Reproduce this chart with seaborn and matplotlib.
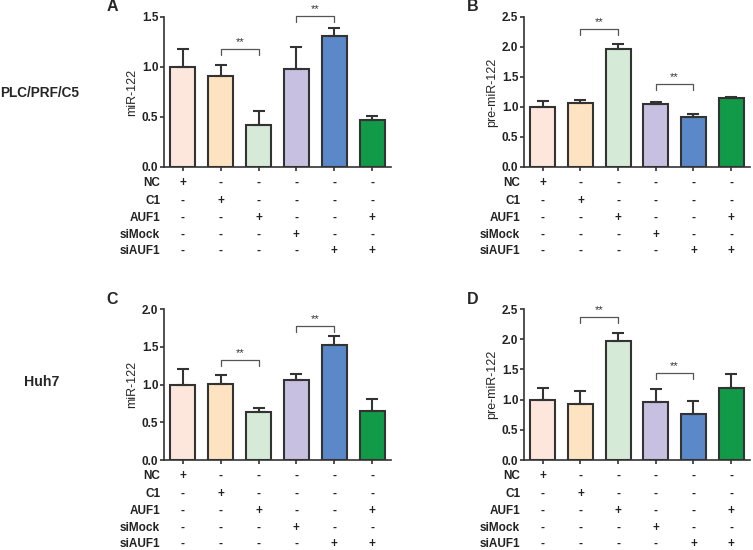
import matplotlib.pyplot as plt
import matplotlib.transforms as mtransforms
import pandas as pd
import seaborn as sns

# %% Data

GROUPS = ["NC", "C1", "AUF1", "siMock", "siAUF1", "AUF1+siAUF1"]
COLORS = ["#fde6dc", "#fde3c1", "#d5ebd7", "#c8c0e0", "#5a88c8", "#119a48"]

ROW_LABELS = ["NC", "C1", "AUF1", "siMock", "siAUF1"]
SIGNS = [
    ["+", "-", "-", "-", "-", "-"],
    ["-", "+", "-", "-", "-", "-"],
    ["-", "-", "+", "-", "-", "+"],
    ["-", "-", "-", "+", "-", "-"],
    ["-", "-", "-", "-", "+", "+"],
]

a_mean = [1.00, 0.91, 0.42, 0.98, 1.31, 0.47]
a_sd = [0.18, 0.11, 0.14, 0.22, 0.08, 0.04]
b_mean = [1.00, 1.07, 1.96, 1.05, 0.84, 1.15]
b_sd = [0.10, 0.05, 0.09, 0.04, 0.04, 0.01]
c_mean = [1.00, 1.01, 0.64, 1.06, 1.53, 0.65]
c_sd = [0.20, 0.11, 0.05, 0.08, 0.11, 0.16]
d_mean = [1.00, 0.92, 1.97, 0.96, 0.77, 1.19]
d_sd = [0.19, 0.23, 0.14, 0.22, 0.20, 0.23]

# brackets: (left bar, right bar, height)
a_sig = [(1, 2, 1.18), (3, 4, 1.51)]
b_sig = [(1, 2, 2.30), (3, 4, 1.38)]
c_sig = [(1, 2, 1.32), (3, 4, 1.77)]
d_sig = [(1, 2, 2.37), (3, 4, 1.44)]

PANELS = [
    ("A", "miR-122", a_mean, a_sd, a_sig, 1.5, 0.5, [0.2178, 0.6964, 0.3015, 0.2727], 1.073),
    ("B", "pre-miR-122", b_mean, b_sd, b_sig, 2.5, 0.5, [0.6959, 0.6964, 0.3000, 0.2727], 1.073),
    ("C", "miR-122", c_mean, c_sd, c_sig, 2.0, 0.5, [0.2178, 0.1636, 0.3015, 0.2745], 1.06),
    ("D", "pre-miR-122", d_mean, d_sd, d_sig, 2.5, 0.5, [0.6959, 0.1636, 0.3000, 0.2745], 1.066),
]

# %% Plot

sns.set_style("ticks")
plt.rcParams["font.family"] = ["Liberation Sans", "DejaVu Sans"]
plt.rcParams["axes.linewidth"] = 1.2

fig = plt.figure(figsize=(7.53, 5.5), dpi=100)
edge = "#333333"

for letter, ylabel, mean, sd, sig, ymax, step, rect, ly in PANELS:
    ax = fig.add_axes(rect)
    df = pd.DataFrame({"group": GROUPS, "value": mean, "sd": sd})
    sns.barplot(
        data=df, x="group", y="value", hue="group", palette=COLORS, saturation=1,
        width=0.66, edgecolor=edge, linewidth=1.5, legend=False, ax=ax,
    )
    ax.errorbar(
        range(len(GROUPS)), df["value"], yerr=[[0] * len(sd), df["sd"]],
        fmt="none", ecolor=edge, elinewidth=1.5, capsize=4, capthick=1.5, zorder=1,
    )
    ax.set_xlim(-0.5, 5.5)
    ax.set_ylim(0, ymax)
    n = int(round(ymax / step)) + 1
    ax.set_yticks([i * step for i in range(n)])
    ax.set_yticklabels([f"{i * step:.1f}" for i in range(n)],
                       fontweight="bold", fontsize=8.5, color="#222222")
    ax.set_xticks(range(len(GROUPS)))
    ax.set_xticklabels([])
    ax.tick_params(axis="both", length=3, width=1.2, color=edge, pad=1)
    ax.set_xlabel("")
    ax.set_ylabel(ylabel, fontsize=9, labelpad=3)
    for s in ["left", "bottom"]:
        ax.spines[s].set_color(edge)
    sns.despine(ax=ax)

    # significance brackets
    for x0, x1, h in sig:
        dh = ymax * 0.04
        ax.plot([x0, x0, x1, x1], [h - dh, h, h, h - dh], color="#555555", lw=0.9, clip_on=False)
        ax.text((x0 + x1) / 2, h + ymax * 0.015, "**", ha="center", va="bottom",
                fontsize=8, color="#333333", clip_on=False)

    # treatment table
    trans = mtransforms.blended_transform_factory(ax.transData, ax.transAxes)
    h_px = rect[3] * 550
    offsets = [16, 34, 51, 68, 84]
    for r, (lab, row) in enumerate(zip(ROW_LABELS, SIGNS)):
        y = -offsets[r] / h_px
        ax.text(-0.6, y, lab, transform=trans, ha="right", va="center",
                fontsize=8.5, fontweight="bold", color="#222222")
        for i, s in enumerate(row):
            ax.text(i, y, s, transform=trans, ha="center", va="center",
                    fontsize=8.5, fontweight="bold", color="#222222")

    ax.text(-0.252, ly, letter, transform=ax.transAxes, fontsize=11.5,
            fontweight="bold", ha="left", va="center")

fig.text(0.0, 0.831, "PLC/PRF/C5", fontsize=9.8, fontweight="bold", ha="left", va="center")
fig.text(0.032, 0.3055, "Huh7", fontsize=10.2, fontweight="bold", ha="left", va="center")

fig.savefig("out.png", dpi=100)
